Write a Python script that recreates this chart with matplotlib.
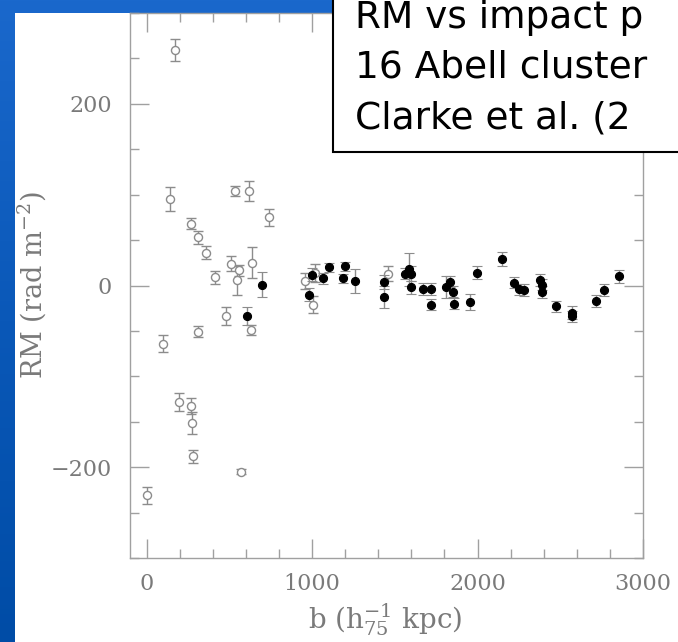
import numpy as np
import matplotlib.pyplot as plt
from matplotlib.patches import Rectangle
from matplotlib.colors import LinearSegmentedColormap
from matplotlib.ticker import MultipleLocator

plt.rcParams['font.family'] = 'DejaVu Serif'
plt.rcParams['mathtext.fontset'] = 'dejavuserif'

# open symbols: impact parameter b (h75^-1 kpc), RM (rad m^-2), RM error
open_b = [4, 98, 140, 170, 199, 269, 269, 277, 279, 311, 311, 361, 412, 480,
          510, 532, 548, 558, 572, 622, 632, 640, 741, 958, 1008, 1020, 1460]
open_rm = [-231, -64, 95, 259, -128, 68, -133, -151, -188, 53, -51, 36, 9, -34,
           24, 104, 6, 17, -205, 104, -49, 25, 75, 5, -21, 14, 13]
open_err = [9, 9, 13, 12, 10, 6, 9, 12, 7, 7, 6, 7, 7, 10,
            8, 5, 16, 6, 3, 11, 6, 17, 9, 9, 9, 10, 8]

# filled symbols
filled_b = [606, 700, 982, 1002, 1068, 1102, 1189, 1199, 1261, 1432, 1432,
            1560, 1586, 1600, 1600, 1671, 1721, 1721, 1807, 1835, 1849, 1857,
            1952, 1998, 2147, 2219, 2253, 2283, 2378, 2390, 2390, 2476, 2568,
            2568, 2717, 2765, 2857]
filled_rm = [-34, 1, -10, 12, 8, 20, 8, 21, 5, 4, -13,
             13, 18, 13, -2, -4, -4, -21, -2, 4, -7, -20,
             -18, 14, 29, 3, -4, -5, 6, 1, -7, -23, -30,
             -34, -17, -5, 10]
filled_err = [10, 14, 7, 7, 6, 5, 5, 5, 13, 8, 12,
              6, 18, 8, 7, 7, 7, 6, 12, 6, 6, 6,
              9, 7, 8, 6, 6, 7, 7, 6, 7, 6, 7,
              6, 7, 7, 7]

# caption as it shows on the slide (runs off the right edge)
box_lines = ["RM vs impact p", "16 Abell cluster", "Clarke et al. (2"]

W, H = 678, 642
fig = plt.figure(figsize=(W / 100, H / 100), dpi=100)

# slide background: blue gradient with a white panel
bg = fig.add_axes([0, 0, 1, 1], zorder=-10)
blues = LinearSegmentedColormap.from_list('slide', ['#1a68cc', '#0a58b8', '#004ca6'])
bg.imshow(np.linspace(0, 1, 256).reshape(-1, 1), cmap=blues, aspect='auto',
          extent=[0, 1, 0, 1], origin='upper')
bg.add_patch(Rectangle((15 / W, 0), 1, 1 - 13 / H, facecolor='white',
                       edgecolor='none'))
bg.set_xlim(0, 1)
bg.set_ylim(0, 1)
bg.axis('off')

ax = fig.add_axes([130 / W, 1 - 558 / H, (643 - 130) / W, (558 - 13) / H])
ax.set_facecolor('none')

grey = '#8c8c8c'
ax.errorbar(open_b, open_rm, yerr=open_err, fmt='o', ms=5.8, mfc='white',
            mec=grey, mew=1.0, ecolor=grey, elinewidth=1.0, capsize=3.5,
            capthick=1.0, zorder=3)
ax.errorbar(filled_b, filled_rm, yerr=filled_err, fmt='o', ms=5.8, mfc='black',
            mec='black', mew=0.8, ecolor=grey, elinewidth=1.0, capsize=3.5,
            capthick=1.0, zorder=4)

ax.set_xlim(-100, 3000)
ax.set_ylim(-300, 300)
ax.xaxis.set_major_locator(MultipleLocator(1000))
ax.xaxis.set_minor_locator(MultipleLocator(200))
ax.yaxis.set_major_locator(MultipleLocator(200))
ax.yaxis.set_minor_locator(MultipleLocator(50))

axis_grey = '#a0a0a0'
for s in ax.spines.values():
    s.set_color(axis_grey)
    s.set_linewidth(1.0)
ax.tick_params(which='both', direction='in', top=True, right=True,
               color=axis_grey, width=1.0, labelcolor='#7a7a7a', labelsize=16)
ax.tick_params(which='major', length=13.5)
ax.tick_params(which='minor', length=6.5)
ax.tick_params(axis='x', pad=11)
ax.tick_params(axis='y', pad=13)

ax.set_xlabel(r'b (h$_{75}^{-1}$ kpc)', fontsize=20, color='#7a7a7a', va='center')
ax.set_ylabel(r'RM (rad m$^{-2}$)', fontsize=19.5, color='#7a7a7a', va='center')
ax.xaxis.set_label_coords((385 - 130) / 513, -(620 - 558) / 545)
ax.yaxis.set_label_coords(-(130 - 32) / 513, 0.5)

# caption box in the upper right, running off the slide edge
fig.patches.append(Rectangle((333 / W, 1 - 152 / H), 1, 1, transform=fig.transFigure,
                             facecolor='white', edgecolor='black', lw=1.5,
                             zorder=5))
for i, line in enumerate(box_lines):
    fig.text(355 / W, 1 - (28 + 50 * i) / H, line, family='DejaVu Sans',
             fontsize=27, va='baseline', ha='left', color='black', zorder=6)

fig.savefig('out.png', dpi=100)
